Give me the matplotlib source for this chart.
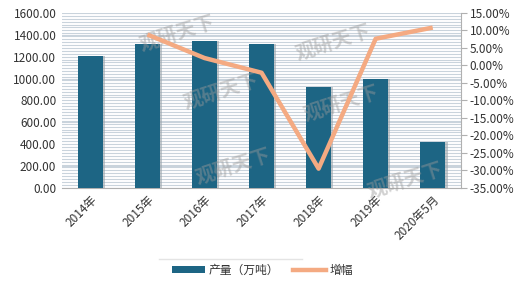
import matplotlib
matplotlib.use("Agg")
import matplotlib.pyplot as plt
import numpy as np
from matplotlib.ticker import FuncFormatter, MultipleLocator
from matplotlib.patches import Patch
from matplotlib.lines import Line2D

plt.rcParams['font.family'] = ['Noto Sans CJK SC', 'DejaVu Sans']

categories = ["2014年", "2015年", "2016年", "2017年", "2018年", "2019年", "2020年5月"]
production = [1207, 1313, 1341, 1313, 926, 996, 418]
growth = [None, 8.8, 2.1, -2.1, -29.5, 7.6, 10.8]

bar_color = "#1D6584"
line_color = "#F4AA82"

fig = plt.figure(figsize=(5.2, 2.86), dpi=100)
ax = fig.add_axes([0.119, 0.343, 0.768, 0.612])
ax2 = ax.twinx()

x = np.arange(len(categories))
# shadow
ax.bar(x + 0.04, production, width=0.44, color="#9aa4ab", alpha=0.6, zorder=2)
ax.bar(x, production, width=0.44, color=bar_color, zorder=3)

ax.set_ylim(0, 1600)
ax.set_xlim(-0.5, 6.5)
ax.yaxis.set_major_locator(MultipleLocator(200))
ax.yaxis.set_minor_locator(MultipleLocator(1600 / 60))
ax.grid(axis='y', which='both', color="#c9d3dc", linewidth=0.8, zorder=0)
ax.set_axisbelow(True)
ax.yaxis.set_major_formatter(FuncFormatter(lambda v, p: f"{v:.2f}"))
ax.tick_params(axis='y', which='both', length=0, labelsize=8.5, colors="#333333", pad=4)
ax.tick_params(axis='y', which='minor', labelleft=False)
ax.set_xticks(x)
ax.set_xticklabels(categories, rotation=45, ha='right', rotation_mode='anchor', fontsize=8.5, color="#333333")
ax.tick_params(axis='x', length=0, pad=4)
for s in ['left', 'top', 'right']:
    ax.spines[s].set_visible(False)
ax.spines['bottom'].set_color("#b0b0b0")

gx = [i for i, g in enumerate(growth) if g is not None]
gy = [g for g in growth if g is not None]
ax2.plot(gx, gy, color=line_color, linewidth=3.2, zorder=5, solid_capstyle='butt')
ax2.set_ylim(-35, 15)
ax2.yaxis.set_major_locator(MultipleLocator(5))
ax2.yaxis.set_major_formatter(FuncFormatter(lambda v, p: f"{v:.2f}%"))
ax2.tick_params(axis='y', labelsize=8.5, colors="#333333", length=4, direction='out', pad=2)
ax2.tick_params(axis='y', color="#b0b0b0")
for s in ['left', 'top', 'bottom']:
    ax2.spines[s].set_visible(False)
ax2.spines['right'].set_color("#b0b0b0")

# watermarks
for (wx, wy) in [(0.29, 0.88), (0.40, 0.55), (0.43, 0.12), (0.68, 0.83), (0.70, 0.48), (0.86, 0.04)]:
    ax.text(wx, wy, "观研天下", transform=ax.transAxes, fontsize=14, color="#9a9a9a",
            alpha=0.45, rotation=18, ha='center', va='center', fontweight='bold', zorder=6)

# legend top border line
fig.add_artist(Line2D([0.305, 0.58], [0.095, 0.095], transform=fig.transFigure,
                      color="#e4e4e4", linewidth=1.0))

handles = [Patch(facecolor=bar_color, edgecolor='none'),
           Line2D([0], [0], color=line_color, linewidth=3.2)]
leg = fig.legend(handles, ["产量（万吨）", "增幅"], loc='center', bbox_to_anchor=(0.505, 0.055),
                 ncol=2, frameon=False, fontsize=8.5, handlelength=2.8, handleheight=0.6,
                 columnspacing=1.2, handletextpad=0.3)
for t in leg.get_texts():
    t.set_color("#333333")

fig.savefig("out.png", dpi=100)
